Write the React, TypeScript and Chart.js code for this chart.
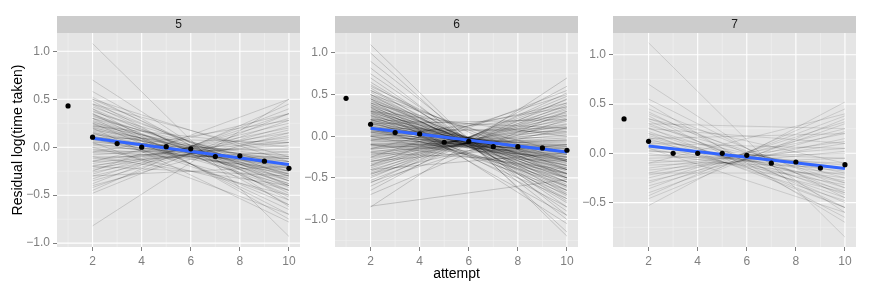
import React, { useEffect, useRef } from "react";
import { Chart, registerables } from "chart.js";
Chart.register(...registerables);

// ---------- data ----------
const attempts = [1, 2, 3, 4, 5, 6, 7, 8, 9, 10];
const facetLabels = ["5", "6", "7"];

const means5 = [0.43, 0.104, 0.038, 0.0, 0.005, -0.017, -0.097, -0.09, -0.146, -0.22];
const means6 = [0.456, 0.144, 0.044, 0.028, -0.072, -0.06, -0.125, -0.125, -0.14, -0.168];
const means7 = [0.349, 0.122, 0.0, 0.0, 0.0, -0.02, -0.1, -0.088, -0.15, -0.115];

const fitX = [2, 10];
const fit5 = [0.094, -0.18];
const fit6 = [0.096, -0.19];
const fit7 = [0.074, -0.153];

// individual subject fits: value at attempt 2 and at attempt 10
const subjectX = [2, 10];
const subjStart5 = [1.08, 0.7, -0.82, 0.58, 0.52, 0.5, 0.48, 0.45, 0.44, 0.42, 0.4, 0.38, 0.37, 0.35, 0.34, 0.33, 0.32, 0.3, 0.3, 0.28, 0.27, 0.26, 0.25, 0.24, 0.23, 0.22, 0.21, 0.2, 0.19, 0.18, 0.17, 0.16, 0.15, 0.14, 0.13, 0.12, 0.11, 0.1, 0.09, 0.08, 0.07, 0.06, 0.05, 0.04, 0.03, 0.02, 0.0, -0.02, -0.03, -0.05, -0.06, -0.08, -0.1, -0.12, -0.14, -0.15, -0.17, -0.19, -0.2, -0.22, -0.24, -0.26, -0.28, -0.3, -0.33, -0.35, -0.38, -0.42, -0.45, -0.48, -0.3, -0.2, 0.05, 0.2, 0.3, 0.15, 0.25, 0.4, 0.1, 0.35, -0.1, 0.0, -0.15, -0.25, -0.05, 0.1, 0.22, -0.4, 0.5, 0.45];
const subjEnd5 = [-0.93, -0.62, 0.5, -0.55, -0.48, -0.4, -0.6, -0.35, -0.52, -0.3, -0.45, -0.4, -0.25, -0.5, -0.35, -0.42, -0.28, -0.38, -0.2, -0.33, -0.45, -0.25, -0.3, -0.38, -0.18, -0.28, -0.35, -0.22, -0.3, -0.15, -0.27, -0.4, -0.2, -0.25, -0.1, -0.32, -0.18, -0.22, -0.12, -0.28, -0.15, -0.2, -0.05, -0.25, -0.12, -0.18, -0.08, -0.15, -0.22, -0.02, -0.12, 0.05, -0.1, 0.02, 0.1, -0.05, 0.15, 0.05, 0.2, 0.08, 0.25, 0.12, 0.3, 0.18, 0.35, 0.22, 0.4, 0.28, 0.45, 0.35, -0.2, -0.3, -0.7, -0.78, -0.65, -0.55, -0.6, -0.75, -0.45, -0.7, -0.4, -0.5, 0.35, 0.5, 0.28, 0.05, 0.0, 0.15, -0.15, -0.1];

const subjStart6 = [1.1, 1.0, 0.9, 0.82, 0.75, 0.7, 0.65, 0.62, 0.58, 0.55, 0.53, 0.5, 0.5, 0.48, 0.47, 0.45, 0.45, 0.43, 0.42, 0.4, 0.4, 0.38, 0.37, 0.36, 0.35, 0.34, 0.33, 0.32, 0.31, 0.3, 0.3, 0.29, 0.28, 0.27, 0.26, 0.25, 0.24, 0.23, 0.22, 0.21, 0.2, 0.2, 0.19, 0.18, 0.17, 0.16, 0.15, 0.15, 0.14, 0.13, 0.12, 0.11, 0.1, 0.1, 0.09, 0.08, 0.07, 0.06, 0.05, 0.05, 0.04, 0.03, 0.02, 0.01, 0.0, 0.0, -0.02, -0.03, -0.04, -0.05, -0.06, -0.08, -0.09, -0.1, -0.11, -0.12, -0.14, -0.15, -0.16, -0.18, -0.19, -0.2, -0.22, -0.23, -0.25, -0.26, -0.28, -0.3, -0.31, -0.33, -0.35, -0.36, -0.38, -0.4, -0.42, -0.44, -0.46, -0.48, -0.5, -0.53, -0.56, -0.6, -0.65, -0.85, -0.84, -0.7, 0.2, 0.1, -0.1, -0.2, 0.3, 0.15, -0.3, -0.4, 0.25, 0.35, 0.45, 0.6, 0.55, 0.2, 0.1, 0.0, -0.1, 0.38, 0.28, 0.18, 0.08, -0.05, -0.15, -0.25, -0.35, 0.0, 0.05, -0.45, -0.55, 0.4, 0.5];
const subjEnd6 = [-1.2, -1.15, -0.95, -1.0, -0.85, -0.9, -0.78, -0.7, -0.8, -0.65, -0.72, -0.6, -0.75, -0.55, -0.68, -0.5, -0.62, -0.58, -0.45, -0.52, -0.65, -0.48, -0.4, -0.55, -0.45, -0.6, -0.38, -0.5, -0.42, -0.35, -0.55, -0.46, -0.3, -0.4, -0.5, -0.36, -0.28, -0.44, -0.33, -0.25, -0.4, -0.3, -0.22, -0.35, -0.28, -0.45, -0.2, -0.32, -0.26, -0.38, -0.18, -0.3, -0.24, -0.15, -0.35, -0.2, -0.28, -0.12, -0.22, -0.3, -0.16, -0.25, -0.1, -0.2, -0.14, -0.28, -0.08, -0.18, -0.12, -0.22, -0.05, -0.1, -0.15, 0.0, -0.06, -0.12, 0.04, -0.02, 0.08, -0.04, 0.12, 0.02, 0.15, 0.06, 0.2, 0.1, 0.24, 0.14, 0.28, 0.18, 0.32, 0.22, 0.36, 0.26, 0.4, 0.3, 0.44, 0.34, 0.48, 0.38, 0.52, 0.45, 0.6, 0.7, -0.52, 0.3, 0.1, 0.05, -0.25, -0.3, 0.0, 0.2, -0.1, -0.2, -0.75, -0.95, -1.05, -0.5, -0.4, -0.6, -0.55, -0.45, -0.4, -0.85, -0.7, -0.65, -0.5, 0.35, 0.4, 0.5, 0.55, 0.25, 0.1, 0.1, 0.2, -0.2, -0.3];

const subjStart7 = [1.12, 0.7, 0.55, 0.5, 0.45, 0.42, 0.4, 0.38, 0.35, 0.33, 0.3, 0.28, 0.26, 0.25, 0.22, 0.2, 0.18, 0.16, 0.15, 0.13, 0.12, 0.1, 0.08, 0.06, 0.05, 0.03, 0.02, 0.0, -0.02, -0.05, -0.07, -0.1, -0.12, -0.15, -0.17, -0.2, -0.22, -0.25, -0.28, -0.3, -0.33, -0.36, -0.4, -0.43, -0.46, -0.53, 0.15, 0.1, -0.2, 0.35, 0.25, -0.1, 0.05, 0.2, 0.3];
const subjEnd7 = [-0.85, -0.6, -0.45, -0.7, -0.35, -0.55, -0.4, -0.65, -0.3, -0.5, -0.42, -0.25, -0.55, -0.35, -0.45, -0.2, -0.38, -0.3, -0.48, -0.15, -0.28, -0.4, -0.22, -0.12, -0.32, -0.18, -0.05, -0.25, -0.1, 0.0, -0.15, 0.05, -0.05, 0.12, 0.02, 0.2, 0.1, 0.25, 0.15, 0.32, 0.22, 0.38, 0.3, 0.45, 0.35, 0.52, 0.2, 0.05, -0.2, -0.1, 0.1, 0.4, -0.6, -0.55, 0.25];

const xTicks = [2, 4, 6, 8, 10];
const xMinor = [1, 3, 5, 7, 9];
const yTicks5 = [-1, -0.5, 0, 0.5, 1];
const yTicks6 = [-1, -0.5, 0, 0.5, 1];
const yTicks7 = [-0.5, 0, 0.5, 1];
const yMinor5 = [-0.75, -0.25, 0.25, 0.75];
const yMinor6 = [-1.25, -0.75, -0.25, 0.25, 0.75];
const yMinor7 = [-0.75, -0.25, 0.25, 0.75];
const xLimits = [0.55, 10.45];
const yLimits5 = [-1.04, 1.19];
const yLimits6 = [-1.33, 1.24];
const yLimits7 = [-0.95, 1.22];

const FONT = "'Liberation Sans', Arial, Helvetica, sans-serif";

type PanelSpec = {
  label: string;
  means: number[];
  fit: number[];
  starts: number[];
  ends: number[];
  yTicks: number[];
  yMinor: number[];
  yLimits: number[];
  left: number;
  width: number;
  axisWidth: number;
  yTitle: boolean;
  xTitle: boolean;
  lineColor: string;
};

const panels: PanelSpec[] = [
  { label: facetLabels[0], means: means5, fit: fit5, starts: subjStart5, ends: subjEnd5, yTicks: yTicks5, yMinor: yMinor5, yLimits: yLimits5, left: 0, width: 304, axisWidth: 57, yTitle: true, xTitle: false, lineColor: "rgba(0,0,0,0.14)" },
  { label: facetLabels[1], means: means6, fit: fit6, starts: subjStart6, ends: subjEnd6, yTicks: yTicks6, yMinor: yMinor6, yLimits: yLimits6, left: 302, width: 280, axisWidth: 33, yTitle: false, xTitle: true, lineColor: "rgba(0,0,0,0.17)" },
  { label: facetLabels[2], means: means7, fit: fit7, starts: subjStart7, ends: subjEnd7, yTicks: yTicks7, yMinor: yMinor7, yLimits: yLimits7, left: 580, width: 280, axisWidth: 33, yTitle: false, xTitle: false, lineColor: "rgba(0,0,0,0.12)" },
];

const fmt = (v: number) => {
  const s = Number(v).toFixed(1);
  return s.startsWith("-") ? "\u2212" + s.slice(1) : s;
};

function makePanelPlugin(p: PanelSpec) {
  return {
    id: "ggpanel",
    beforeDraw(chart: any) {
      const { ctx, chartArea } = chart;
      const { left, right, top, bottom } = chartArea;
      ctx.save();
      ctx.fillStyle = "#E5E5E5";
      ctx.fillRect(left, top, right - left, bottom - top);
      // strip
      ctx.fillStyle = "#CCCCCC";
      ctx.fillRect(left, top - 17, right - left, 17);
      ctx.fillStyle = "#1A1A1A";
      ctx.font = `12px ${FONT}`;
      ctx.textAlign = "center";
      ctx.textBaseline = "middle";
      ctx.fillText(p.label, (left + right) / 2, top - 8);
      ctx.restore();
    },
    beforeDatasetsDraw(chart: any) {
      const { ctx, chartArea, scales } = chart;
      const { left, right, top, bottom } = chartArea;
      const xs = scales.x;
      const ys = scales.y;
      ctx.save();
      ctx.beginPath();
      ctx.rect(left, top, right - left, bottom - top);
      ctx.clip();
      // minor grid
      ctx.strokeStyle = "#F2F2F2";
      ctx.lineWidth = 0.6;
      ctx.beginPath();
      xMinor.forEach((v) => {
        const px = xs.getPixelForValue(v);
        ctx.moveTo(px, top);
        ctx.lineTo(px, bottom);
      });
      p.yMinor.forEach((v) => {
        const py = ys.getPixelForValue(v);
        ctx.moveTo(left, py);
        ctx.lineTo(right, py);
      });
      ctx.stroke();
      // major grid
      ctx.strokeStyle = "#FFFFFF";
      ctx.lineWidth = 1.1;
      ctx.beginPath();
      xTicks.forEach((v) => {
        const px = xs.getPixelForValue(v);
        ctx.moveTo(px, top);
        ctx.lineTo(px, bottom);
      });
      p.yTicks.forEach((v) => {
        const py = ys.getPixelForValue(v);
        ctx.moveTo(left, py);
        ctx.lineTo(right, py);
      });
      ctx.stroke();
      ctx.restore();
    },
  };
}

function Panel({ spec }: { spec: PanelSpec }) {
  const ref = useRef<HTMLCanvasElement | null>(null);
  useEffect(() => {
    if (!ref.current) return;
    const subjectSets = spec.starts.map((s, i) => ({
      data: [
        { x: subjectX[0], y: s },
        { x: subjectX[1], y: spec.ends[i] },
      ],
      borderColor: spec.lineColor,
      borderWidth: 1,
      pointRadius: 0,
      order: 2,
    }));
    const chart = new Chart(ref.current, {
      type: "line",
      data: {
        datasets: [
          {
            data: attempts.map((a, i) => ({ x: a, y: spec.means[i] })),
            showLine: false,
            pointRadius: 2.6,
            pointBackgroundColor: "#000000",
            pointBorderWidth: 0,
            order: 0,
          },
          {
            data: fitX.map((a, i) => ({ x: a, y: spec.fit[i] })),
            borderColor: "#3366FF",
            borderWidth: 3,
            pointRadius: 0,
            order: 1,
          },
          ...subjectSets,
        ],
      },
      options: {
        animation: false,
        responsive: false,
        devicePixelRatio: 1,
        events: [],
        layout: { padding: { left: 0, right: 4, top: 33, bottom: 0 } },
        plugins: { legend: { display: false }, tooltip: { enabled: false } },
        scales: {
          x: {
            type: "linear",
            min: xLimits[0],
            max: xLimits[1],
            afterBuildTicks: (scale: any) => {
              scale.ticks = xTicks.map((v) => ({ value: v }));
            },
            afterFit: (scale: any) => {
              scale.height = 44;
            },
            ticks: {
              autoSkip: false,
              maxRotation: 0,
              padding: 3,
              color: "#7F7F7F",
              font: { family: FONT, size: 12 },
              callback: (v: any) => String(v),
            },
            grid: {
              display: true,
              drawOnChartArea: false,
              drawTicks: true,
              tickLength: 4,
              tickColor: "#7F7F7F",
              lineWidth: 1,
            },
            border: { display: false },
            title: {
              display: spec.xTitle,
              text: "attempt",
              color: "#000000",
              font: { family: FONT, size: 14 },
              padding: { top: 0, bottom: 8 },
            },
          },
          y: {
            type: "linear",
            min: spec.yLimits[0],
            max: spec.yLimits[1],
            afterBuildTicks: (scale: any) => {
              scale.ticks = spec.yTicks.map((v) => ({ value: v }));
            },
            afterFit: (scale: any) => {
              scale.width = spec.axisWidth;
            },
            ticks: {
              autoSkip: false,
              padding: 3,
              color: "#7F7F7F",
              font: { family: FONT, size: 12 },
              callback: (v: any) => fmt(v),
            },
            grid: {
              display: true,
              drawOnChartArea: false,
              drawTicks: true,
              tickLength: 4,
              tickColor: "#7F7F7F",
              lineWidth: 1,
            },
            border: { display: false },
            title: {
              display: spec.yTitle,
              text: "Residual log(time taken)",
              color: "#000000",
              font: { family: FONT, size: 14 },
              padding: { top: 9.6, bottom: 0 },
            },
          },
        },
      } as any,
      plugins: [makePanelPlugin(spec)],
    });
    return () => chart.destroy();
  }, [spec]);
  return (
    <canvas
      ref={ref}
      width={spec.width}
      height={291}
      style={{ position: "absolute", left: spec.left, top: 0, width: spec.width, height: 291, display: "block" }}
    />
  );
}

export default function App() {
  return (
    <div style={{ position: "fixed", left: 0, top: 0, width: 872, height: 291, background: "#FFFFFF", overflow: "hidden" }}>
      {panels.map((p) => (
        <Panel key={p.label} spec={p} />
      ))}
    </div>
  );
}
